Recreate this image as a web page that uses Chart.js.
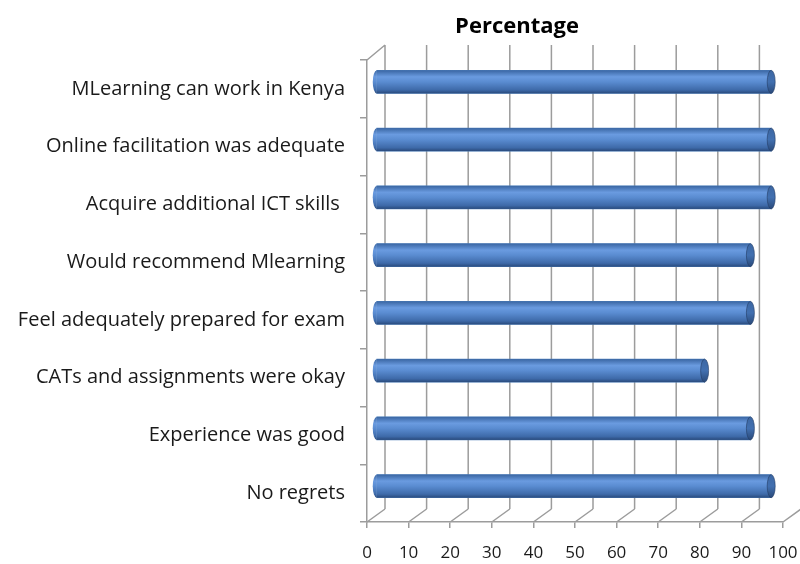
<!DOCTYPE html>
<html>
<head>
<meta charset="utf-8">
<script src="https://cdn.jsdelivr.net/npm/chart.js@4"></script>
<style>
  body { margin: 0; background: #fff; }
  #wrap { width: 800px; height: 564px; }
</style>
</head>
<body>
<div id="wrap"><canvas id="grafico" width="800" height="564"></canvas></div>
<script>
const titulo = 'Percentage';
const categorias = [
    'MLearning can work in Kenya',
    'Online facilitation was adequate',
    'Acquire additional ICT skills ',
    'Would recommend Mlearning',
    'Feel adequately prepared for exam',
    'CATs and assignments were okay',
    'Experience was good',
    'No regrets'
];
const percentagens = [95, 95, 95, 90, 90, 79, 90, 95];

// depth of the fake 3D box (back wall) and of the bars (half way)
const fundo = { dx: 18, dyTop: -15, dyBottom: -13 };
const meio = { dx: 9, dy: -7 };
const cinza = '#9c9c9c';

function gradienteBarra(ctx, top, bottom) {
    const g = ctx.createLinearGradient(0, top, 0, bottom);
    g.addColorStop(0, '#3a66a3');
    g.addColorStop(0.28, '#6a9be0');
    g.addColorStop(0.5, '#5a8cd1');
    g.addColorStop(0.85, '#3e6aa9');
    g.addColorStop(1, '#294a7c');
    return g;
}

const caixa3d = {
    id: 'caixa3d',
    beforeDatasetsDraw(chart) {
        const { ctx, chartArea: a, scales: { x } } = chart;
        ctx.save();
        ctx.strokeStyle = cinza;
        ctx.lineWidth = 1.5;
        ctx.beginPath();
        x.ticks.forEach(t => {
            const px = x.getPixelForValue(t.value);
            // back wall line
            if (px + fundo.dx < chart.width) {
                ctx.moveTo(px + fundo.dx, a.top + fundo.dyTop);
                ctx.lineTo(px + fundo.dx, a.bottom + fundo.dyBottom);
            }
            // floor diagonal
            ctx.moveTo(px, a.bottom);
            ctx.lineTo(px + fundo.dx, a.bottom + fundo.dyBottom);
        });
        // top of left wall
        ctx.moveTo(a.left, a.top);
        ctx.lineTo(a.left + fundo.dx, a.top + fundo.dyTop);
        ctx.stroke();
        ctx.restore();

        ctx.save();
        ctx.translate(meio.dx, meio.dy);
    },
    afterDatasetsDraw(chart) {
        const { ctx } = chart;
        chart.getDatasetMeta(0).data.forEach(bar => {
            const h = bar.height;
            const top = bar.y - h / 2;
            const rx = 4;
            // cylinder body with shading
            ctx.fillStyle = gradienteBarra(ctx, top, top + h);
            ctx.fillRect(bar.base, top, bar.x - bar.base, h);
            // left rounded end
            ctx.beginPath();
            ctx.ellipse(bar.base, bar.y, rx, h / 2, 0, Math.PI / 2, Math.PI * 1.5);
            ctx.fill();
            // right cap
            ctx.beginPath();
            ctx.ellipse(bar.x, bar.y, rx, h / 2, 0, 0, Math.PI * 2);
            const g = ctx.createLinearGradient(0, top, 0, top + h);
            g.addColorStop(0, '#3c67a3');
            g.addColorStop(0.5, '#4270b0');
            g.addColorStop(1, '#2a4a7a');
            ctx.fillStyle = g;
            ctx.fill();
            ctx.strokeStyle = 'rgba(35,60,100,0.6)';
            ctx.lineWidth = 1;
            ctx.stroke();
        });
        ctx.restore();
    },
    afterDraw(chart) {
        const { ctx } = chart;
        ctx.save();
        ctx.fillStyle = '#000';
        ctx.font = 'bold 22px "Open Sans"';
        ctx.textAlign = 'center';
        ctx.textBaseline = 'middle';
        ctx.fillText(titulo, 517, 27);
        ctx.restore();
    }
};

new Chart(document.getElementById('grafico'), {
    type: 'bar',
    data: {
        labels: categorias,
        datasets: [{
            label: titulo,
            data: percentagens,
            barThickness: 23,
            borderWidth: 0,
            backgroundColor: '#4f81bd'
        }]
    },
    options: {
        indexAxis: 'y',
        responsive: false,
        animation: false,
        layout: { padding: { top: 60, right: 17, left: 0, bottom: 0 } },
        plugins: {
            legend: { display: false },
            tooltip: { enabled: false },
            title: { display: false }
        },
        scales: {
            x: {
                min: 0,
                max: 100,
                afterFit: scale => {
                    scale.height = 42;
                    scale.paddingLeft = 0;
                    scale.paddingRight = 0;
                },
                ticks: {
                    stepSize: 10,
                    padding: 15,
                    color: '#1a1a1a',
                    font: { family: 'Open Sans', size: 17 }
                },
                grid: {
                    drawOnChartArea: false,
                    tickLength: 6,
                    color: cinza,
                    lineWidth: 1.5
                },
                border: { color: cinza, width: 1.5 }
            },
            y: {
                afterFit: scale => { scale.width = 367; },
                ticks: {
                    padding: 15,
                    color: '#1a1a1a',
                    font: { family: 'Open Sans', size: 20 }
                },
                grid: {
                    drawOnChartArea: false,
                    tickLength: 7,
                    color: cinza,
                    lineWidth: 1.5
                },
                border: { color: cinza, width: 1.5 }
            }
        }
    },
    plugins: [caixa3d]
});
</script>
</body>
</html>
